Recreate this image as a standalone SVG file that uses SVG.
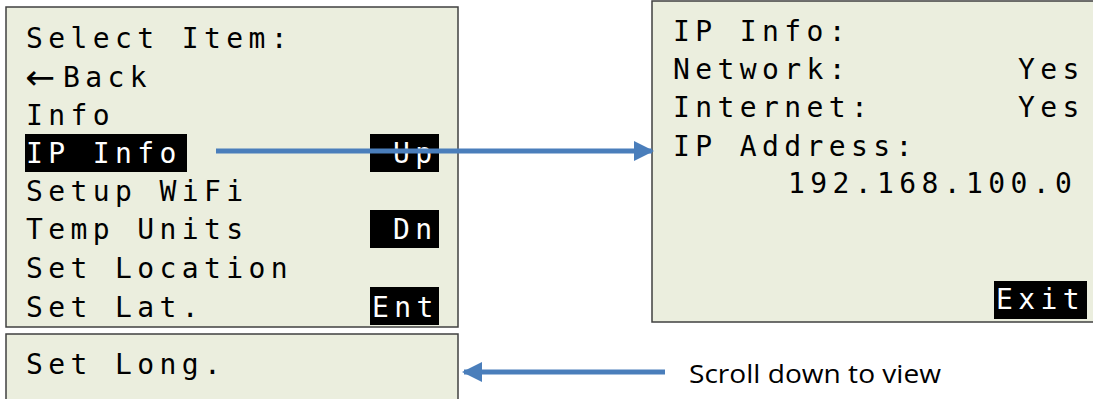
<svg xmlns="http://www.w3.org/2000/svg" width="1093" height="399" viewBox="0 0 1093 399">
<defs>
<style>
.panel{fill:#EBEEDE;stroke:#404040;stroke-width:1.5}
.lcd{font-family:"DejaVu Sans Mono","Liberation Mono",monospace;font-size:28px;letter-spacing:5.4px;fill:#000}
.sym{font-family:"DejaVu Sans","Liberation Sans",sans-serif;font-size:34px;fill:#000}
.inv{fill:#fff}
.hl{fill:#000}
.conn{stroke:#4A7EBB;stroke-width:5;fill:none}
.lbl{font-family:"Open Sans","Liberation Sans",sans-serif;font-size:26px;fill:#000}
</style>
<marker id="ah" markerWidth="4" markerHeight="4" refX="3.6" refY="2" orient="auto" markerUnits="strokeWidth" viewBox="0 0 4 4">
<path d="M0,0 L4,2 L0,4 Z" fill="#4A7EBB"/>
</marker>
</defs>
<rect width="1093" height="399" fill="#fff"/>
<g id="menu-screen">
<rect class="panel" x="6" y="7" width="452" height="320"/>
<rect class="hl" x="25" y="134" width="162" height="38"/>
<rect class="hl" x="370" y="134" width="69" height="38"/>
<rect class="hl" x="370" y="210" width="69" height="38"/>
<rect class="hl" x="370" y="287" width="69" height="38"/>
<text class="lcd" x="26" y="48">Select Item:</text>
<text class="sym" x="25" y="89" textLength="30" lengthAdjust="spacingAndGlyphs">←</text>
<text class="lcd" x="63" y="87">Back</text>
<text class="lcd" x="26" y="125">Info</text>
<text class="lcd inv" x="26" y="163">IP Info</text>
<text class="lcd inv" x="393" y="163">Up</text>
<text class="lcd" x="26" y="201">Setup WiFi</text>
<text class="lcd" x="26" y="239">Temp Units</text>
<text class="lcd inv" x="393" y="239">Dn</text>
<text class="lcd" x="26" y="278">Set Location</text>
<text class="lcd" x="26" y="317">Set Lat.</text>
<text class="lcd inv" x="372" y="317">Ent</text>
</g>
<g id="scroll-screen">
<rect class="panel" x="6" y="334" width="452" height="80"/>
<text class="lcd" x="26" y="374">Set Long.</text>
</g>
<g id="ip-info-screen">
<rect class="panel" x="652" y="1" width="450" height="321"/>
<rect class="hl" x="994" y="281" width="93" height="38"/>
<text class="lcd" x="673" y="41">IP Info:</text>
<text class="lcd" x="673" y="79">Network:</text>
<text class="lcd" x="1018" y="79">Yes</text>
<text class="lcd" x="673" y="117">Internet:</text>
<text class="lcd" x="1018" y="117">Yes</text>
<text class="lcd" x="673" y="156">IP Address:</text>
<text class="lcd" x="788" y="193">192.168.100.0</text>
<text class="lcd inv" x="996" y="309">Exit</text>
</g>
<g id="connectors">
<line class="conn" x1="216" y1="151" x2="652" y2="151" marker-end="url(#ah)"/>
<line class="conn" x1="665" y1="372" x2="464" y2="372" marker-end="url(#ah)"/>
</g>
<g id="note">
<text class="lbl" x="689" y="383" textLength="252" lengthAdjust="spacingAndGlyphs">Scroll down to view</text>
</g>
</svg>
